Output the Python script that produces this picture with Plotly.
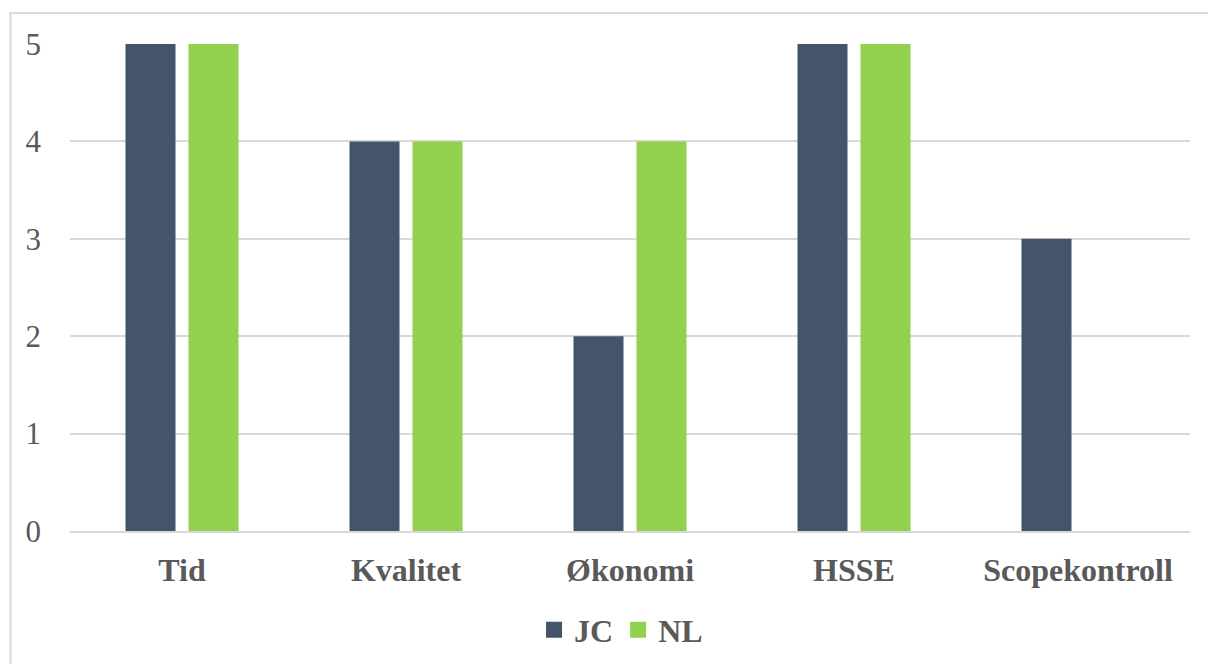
import plotly.graph_objects as go

categories = ["Tid", "Kvalitet", "Økonomi", "HSSE", "Scopekontroll"]
jc_values = [5, 4, 2, 5, 3]
nl_values = [5, 4, 4, 5, 0]
y_ticks = [0, 1, 2, 3, 4, 5]

JC_COLOR = "#44546A"
NL_COLOR = "#92D050"
TXT = "#595959"
GRID = "#D9D9D9"
FONT = "Liberation Serif"

W, H = 1208, 664
L, R, T, B = 70, 18, 44, 133
pw, ph = W - L - R, H - T - B

fig = go.Figure()
fig.add_trace(go.Bar(x=categories, y=jc_values, name="JC", marker_color=JC_COLOR,
                     marker_line_width=0, showlegend=False))
fig.add_trace(go.Bar(x=categories, y=nl_values, name="NL", marker_color=NL_COLOR,
                     marker_line_width=0, showlegend=False))
# legend entries with larger square symbols
fig.add_trace(go.Scatter(x=[None], y=[None], mode="markers", name="JC",
                         marker=dict(symbol="square", size=16, color=JC_COLOR)))
fig.add_trace(go.Scatter(x=[None], y=[None], mode="markers", name="NL",
                         marker=dict(symbol="square", size=16, color=NL_COLOR)))

def px_x(p):
    return (p - L) / pw

def px_y(p):
    return (H - B - p) / ph

fig.add_shape(type="rect", xref="paper", yref="paper",
              x0=px_x(10.5), x1=px_x(1212), y0=px_y(680), y1=px_y(13),
              line=dict(color=GRID, width=2), fillcolor="rgba(0,0,0,0)", layer="below")

fig.update_layout(
    width=W, height=H, autosize=False,
    margin=dict(l=L, r=R, t=T, b=B, autoexpand=False),
    paper_bgcolor="white", plot_bgcolor="white",
    barmode="group", bargap=0.4375, bargroupgap=0.206,
    font=dict(family=FONT, color=TXT, size=31),
    showlegend=True,
    legend=dict(orientation="h", x=0.492, xanchor="center", y=-0.203, yanchor="middle",
                font=dict(family=FONT, size=32, color=TXT, weight="bold"),
                itemsizing="trace", itemwidth=30, tracegroupgap=0,
                bgcolor="rgba(0,0,0,0)"),
    xaxis=dict(showgrid=False, showline=True, linecolor=GRID, linewidth=2,
               tickfont=dict(family=FONT, size=32, color=TXT, weight="bold"),
               ticks="", ticklabelstandoff=10, zeroline=False, automargin=False),
    yaxis=dict(range=[0, 5], tickvals=y_ticks, showgrid=True, gridcolor=GRID, gridwidth=2,
               showline=False, zeroline=False, ticks="", automargin=False,
               tickfont=dict(family=FONT, size=31, color=TXT),
               ticklabelstandoff=28),
)

fig.write_html("out.html")
